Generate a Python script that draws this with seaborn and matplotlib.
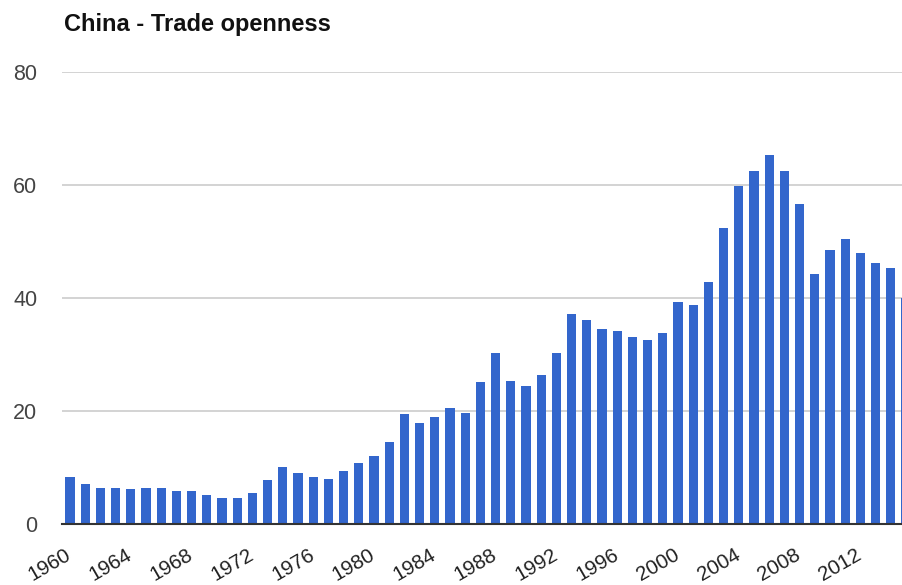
import matplotlib
matplotlib.use("Agg")
import matplotlib.pyplot as plt
import matplotlib.transforms as mtransforms
import seaborn as sns
import pandas as pd

# Trade openness (trade as % of GDP), China
years = list(range(1960, 2016))
openness = [
    8.4, 7.2, 6.5, 6.5, 6.2, 6.5, 6.5, 5.9, 5.9, 5.2,
    4.6, 4.6, 5.6, 7.8, 10.1, 9.1, 8.4, 8.1, 9.4, 10.8,
    12.1, 14.6, 19.5, 17.9, 18.9, 20.5, 19.6, 25.1, 30.3, 25.4,
    24.4, 26.4, 30.3, 37.2, 36.2, 34.5, 34.2, 33.2, 32.6, 33.9,
    39.4, 38.8, 42.9, 52.4, 59.9, 62.5, 65.4, 62.5, 56.6, 44.2,
    48.5, 50.5, 47.9, 46.2, 45.3, 40.0,
]
y_ticks = [0, 20, 40, 60, 80]
label_years = list(range(1960, 2013, 4))
title = "China - Trade openness"

df = pd.DataFrame({"year": [str(y) for y in years], "value": openness})

sns.set_theme(style="white")
plt.rcParams["font.family"] = ["Liberation Sans", "DejaVu Sans"]

W, H = 903, 585
fig = plt.figure(figsize=(W / 100, H / 100), dpi=100)
fig.patch.set_facecolor("white")

# plot area in pixels: left edge 62, 15.2 px per year band, baseline at 524, 80 at 72
left_px, band_px = 62.4, 15.2
bottom_px, top_px = 524.3, 72
ax = fig.add_axes([
    left_px / W,
    (H - bottom_px) / H,
    band_px * len(years) / W,
    (bottom_px - top_px) / H,
])

sns.barplot(data=df, x="year", y="value", color="#3366cc", saturation=1,
            width=0.6, ax=ax, linewidth=0, zorder=3)

ax.set_xlim(-0.5, len(years) - 0.5)
ax.set_ylim(0, 80)
ax.set_yticks(y_ticks)
ax.set_yticklabels([str(v) for v in y_ticks], fontsize=15.5, color="#444444")
ax.tick_params(axis="y", length=0, pad=18)

tick_pos = [years.index(y) for y in label_years]
ax.set_xticks(tick_pos)
ax.set_xticklabels([str(y) for y in label_years], rotation=30, ha="right",
                   rotation_mode="anchor", fontsize=14.8, color="#222222")
ax.tick_params(axis="x", length=0, pad=15)
shift = mtransforms.ScaledTranslation(-5 / 100, 0, fig.dpi_scale_trans)
for lbl in ax.get_xticklabels():
    lbl.set_transform(lbl.get_transform() + shift)

ax.set_xlabel("")
ax.set_ylabel("")
ax.grid(axis="y", color="#cccccc", linewidth=1.2, zorder=0)
ax.grid(axis="x", visible=False)
for side in ["top", "right", "left"]:
    ax.spines[side].set_visible(False)
ax.spines["bottom"].set_color("#333333")
ax.spines["bottom"].set_linewidth(1.5)
ax.spines["bottom"].set_zorder(4)

fig.text(64 / W, 1 - 31.5 / H, title, fontsize=17, fontweight="bold",
         color="#111111", va="baseline", ha="left")

fig.savefig("out.png", dpi=100, facecolor="white")
